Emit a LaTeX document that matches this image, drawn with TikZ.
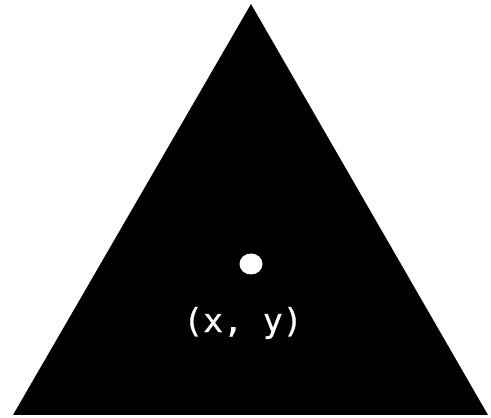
\documentclass[tikz,border=0pt]{standalone}
\usepackage{fontspec}
\usetikzlibrary{shapes.geometric}
\newfontfamily\monofont[FakeBold=0.6]{DejaVu Sans Mono}
\begin{document}
\begin{tikzpicture}[x=1pt,y=1pt,
  tri/.style={fill=black,draw=none},
  dot/.style={ellipse,fill=white,draw=none,minimum width=23pt,minimum height=21pt,inner sep=0pt},
  lbl/.style={text=white,font=\monofont\fontsize{33}{38}\selectfont,inner sep=0pt}]
\useasboundingbox (0,0) rectangle (491,418);
\coordinate (A) at (251,414);
\coordinate (B) at (13,3);
\coordinate (C) at (488,3);
\fill[tri] (A) -- (B) -- (C) -- cycle;
\node[dot] (p) at (251,154) {};
\node[lbl] (t) at (243,95) {(x, y)};
\end{tikzpicture}
\end{document}
